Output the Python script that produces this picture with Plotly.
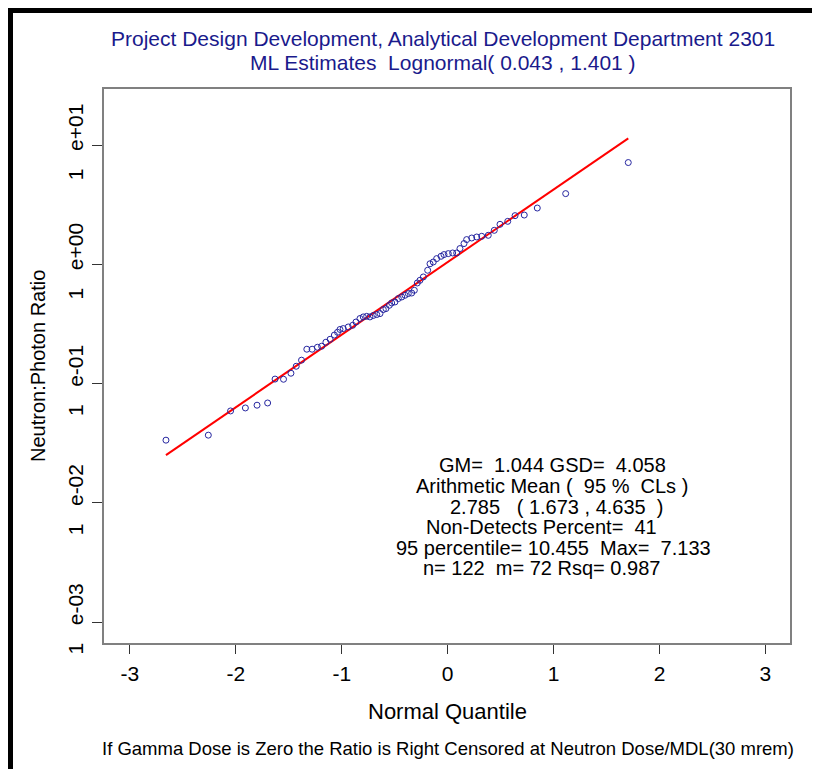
import plotly.graph_objects as go

# ---- data ----
quantile = [-2.66, -2.26, -2.05, -1.91, -1.80, -1.70, -1.63, -1.55, -1.48, -1.43,
            -1.38, -1.33, -1.28, -1.23, -1.19, -1.15, -1.11, -1.07, -1.04,
            -1.017, -0.986, -0.939, -0.897, -0.866, -0.828, -0.797, -0.765, -0.734, -0.703,
            -0.670, -0.639, -0.608, -0.583, -0.551, -0.529, -0.498, -0.466, -0.434, -0.403,
            -0.372, -0.340, -0.315, -0.287, -0.262, -0.230, -0.189, -0.167, -0.136, -0.104,
            -0.063, -0.035, 0.006, 0.047, 0.085, 0.116, 0.154, 0.179, 0.227, 0.274,
            0.321, 0.383, 0.440, 0.494, 0.567, 0.636, 0.723, 0.846, 1.114, 1.705]
ratio = [0.0335, 0.0369, 0.0589, 0.0624, 0.0658, 0.0687, 0.109, 0.1086, 0.122, 0.1396,
         0.157, 0.194, 0.194, 0.2015, 0.2055, 0.222, 0.235, 0.255, 0.269,
         0.284, 0.289, 0.298, 0.308, 0.328, 0.351, 0.362, 0.366, 0.362, 0.372,
         0.379, 0.386, 0.417, 0.425, 0.453, 0.474, 0.483, 0.516, 0.532, 0.550,
         0.568, 0.574, 0.605, 0.697, 0.734, 0.783, 0.891, 1.01, 1.045, 1.116,
         1.167, 1.206, 1.229, 1.244, 1.244, 1.355, 1.492, 1.611, 1.661, 1.694,
         1.717, 1.750, 1.927, 2.164, 2.292, 2.558, 2.588, 2.964, 3.915, 7.133]

fit_quantile = [-2.66, 1.705]
fit_ratio = [0.0251, 11.38]

x_ticks = [-3, -2, -1, 0, 1, 2, 3]
y_tickvals = [0.001, 0.01, 0.1, 1, 10]
y_ticktext = ["1   e-03", "1   e-02", "1   e-01", "1   e+00", "1   e+01"]

title_lines = ["Project Design Development, Analytical Development Department 2301",
               "ML Estimates  Lognormal( 0.043 , 1.401 )"]
stats_lines = ["GM=  1.044 GSD=  4.058",
               "Arithmetic Mean (  95 %  CLs )",
               "2.785   ( 1.673 , 4.635  )",
               "Non-Detects Percent=  41",
               "95 percentile= 10.455  Max=  7.133",
               "n= 122  m= 72 Rsq= 0.987"]
x_title = "Normal Quantile"
y_title = "Neutron:Photon Ratio"
footnote = "If Gamma Dose is Zero the Ratio is Right Censored at Neutron Dose/MDL(30 mrem)"

# ---- layout geometry (page pixels; the page body adds an 8px offset) ----
OFF = 8
W, H = 820 - OFF, 769 - OFF
L, R, T, B = 104, 790, 89, 643
FONT = "Liberation Sans, Arial, sans-serif"
NAVY = "#1a1a8c"


def px2x(px):
    return (px - L) / (R - L)


def py2y(py):
    return (B - py) / (B - T)


fig = go.Figure()
fig.add_trace(go.Scatter(x=fit_quantile, y=fit_ratio, mode="lines",
                         line=dict(color="#ff0000", width=2), hoverinfo="skip"))
fig.add_trace(go.Scatter(x=quantile, y=ratio, mode="markers",
                         marker=dict(symbol="circle-open", size=6, color="#2626a0",
                                     line=dict(width=1, color="#2626a0"))))

annotations = []
for text, py in zip(title_lines, [38.5, 62.5]):
    annotations.append(dict(text=text, x=px2x(443), y=py2y(py), xref="paper", yref="paper",
                            showarrow=False, xanchor="center", yanchor="middle",
                            font=dict(family=FONT, size=21, color=NAVY)))
stats_y = [465, 486, 507, 527, 548, 568]
stats_x = [552, 552, 556, 541, 553, 541]
for text, px, py in zip(stats_lines, stats_x, stats_y):
    annotations.append(dict(text=text, x=px2x(px), y=py2y(py), xref="paper", yref="paper",
                            showarrow=False, xanchor="center", yanchor="middle",
                            font=dict(family=FONT, size=20, color="black")))
annotations.append(dict(text=x_title, x=px2x(447), y=py2y(711), xref="paper", yref="paper",
                        showarrow=False, xanchor="center", yanchor="middle",
                        font=dict(family=FONT, size=22, color="black")))
annotations.append(dict(text=y_title, x=px2x(38), y=py2y(366), xref="paper", yref="paper",
                        showarrow=False, xanchor="center", yanchor="middle", textangle=-90,
                        font=dict(family=FONT, size=20, color="black")))
annotations.append(dict(text=footnote, x=px2x(448), y=py2y(748), xref="paper", yref="paper",
                        showarrow=False, xanchor="center", yanchor="middle",
                        font=dict(family=FONT, size=18.5, color="black")))

shapes = [
    # page frame
    dict(type="rect", xref="paper", yref="paper", x0=px2x(8), x1=px2x(13),
         y0=py2y(769), y1=py2y(8), fillcolor="black", line=dict(width=0), layer="above"),
    dict(type="rect", xref="paper", yref="paper", x0=px2x(8), x1=px2x(820),
         y0=py2y(13), y1=py2y(8), fillcolor="black", line=dict(width=0), layer="above"),
    dict(type="rect", xref="paper", yref="paper", x0=px2x(815), x1=px2x(817),
         y0=py2y(769), y1=py2y(8), fillcolor="black", line=dict(width=0), layer="above"),
]

fig.update_layout(
    width=W, height=H,
    margin=dict(l=L - OFF, r=W - (R - OFF), t=T - OFF, b=H - (B - OFF), pad=0),
    paper_bgcolor="white", plot_bgcolor="white",
    showlegend=False,
    font=dict(family=FONT, size=19, color="black"),
    annotations=annotations, shapes=shapes,
    xaxis=dict(range=[-3.245, 3.232], tickvals=x_ticks, ticktext=[str(v) for v in x_ticks],
               ticks="outside", ticklen=9, tickwidth=1, tickcolor="#333333",
               showline=True, linecolor="#808080", linewidth=2, mirror=True,
               showgrid=False, zeroline=False, tickfont=dict(size=21), ticklabelstandoff=2),
    yaxis=dict(type="log", range=[-3.176, 1.47], tickvals=y_tickvals, ticktext=y_ticktext,
               tickangle=-90, ticks="outside", ticklen=10, tickwidth=1, tickcolor="#333333",
               showline=True, linecolor="#808080", linewidth=2, mirror=True,
               showgrid=False, zeroline=False, tickfont=dict(size=21), ticklabelstandoff=1),
)

fig.write_html("out.html")
